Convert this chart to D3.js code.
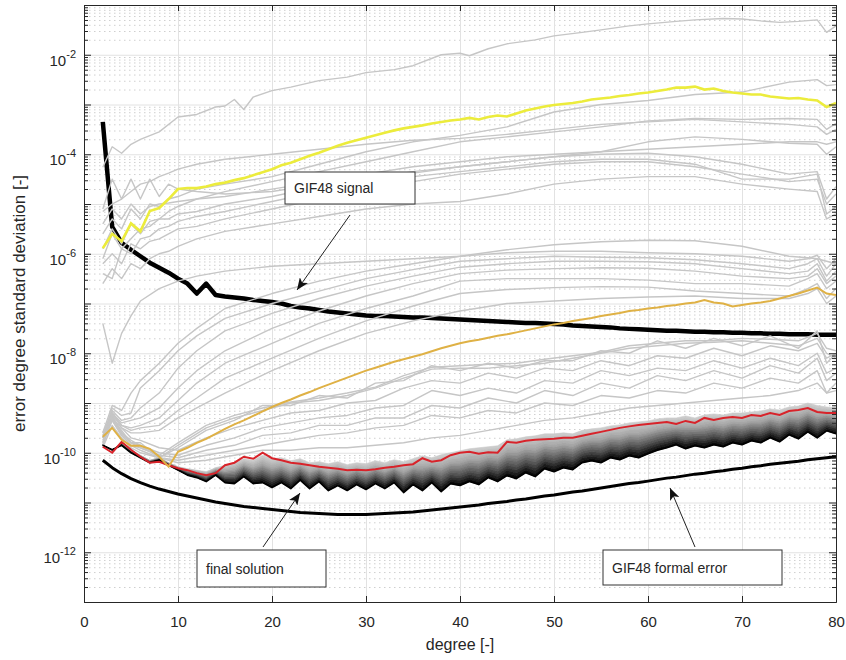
<!DOCTYPE html>
<html><head><meta charset="utf-8">
<script src="https://cdn.jsdelivr.net/npm/d3@7"></script>
<style>
body{margin:0;background:#fff}
svg{display:block}
text{font-family:"Liberation Sans",Arial,Helvetica,sans-serif;fill:#262626}
</style>
</head><body>
<svg id="chart" width="846" height="660"></svg>
<script>
// ---------------- DATA (values are log10 of the error degree std. dev.) ----------------
const degrees = d3.range(2, 81); // 2..80
const xTickValues = [0, 10, 20, 30, 40, 50, 60, 70, 80];
const yLabelExponents = [-12, -10, -8, -6, -4, -2];

const signalLog10 = [-3.35,-5.46,-5.78,-5.92,-6.05,-6.18,-6.28,-6.38,-6.5,-6.6,
 -6.8,-6.6,-6.83,-6.86,-6.88,-6.9,-6.93,-6.95,-6.97,-7.0,
 -7.05,-7.08,-7.1,-7.13,-7.16,-7.18,-7.2,-7.22,-7.24,-7.25,
 -7.25,-7.26,-7.27,-7.28,-7.28,-7.29,-7.3,-7.31,-7.32,-7.33,
 -7.34,-7.35,-7.36,-7.37,-7.38,-7.39,-7.39,-7.4,-7.41,-7.42,
 -7.44,-7.45,-7.46,-7.47,-7.48,-7.5,-7.51,-7.52,-7.53,-7.54,
 -7.55,-7.55,-7.56,-7.57,-7.57,-7.58,-7.58,-7.59,-7.59,-7.6,
 -7.6,-7.61,-7.61,-7.62,-7.62,-7.62,-7.63,-7.63,-7.63];

const formalLog10 = [-10.15,-10.3,-10.42,-10.52,-10.6,-10.67,-10.73,-10.78,-10.83,-10.87,
 -10.91,-10.95,-10.99,-11.02,-11.05,-11.08,-11.1,-11.12,-11.14,-11.16,
 -11.18,-11.2,-11.21,-11.22,-11.23,-11.24,-11.24,-11.24,-11.24,-11.23,
 -11.22,-11.21,-11.2,-11.19,-11.17,-11.15,-11.13,-11.11,-11.09,-11.07,
 -11.05,-11.02,-11.0,-10.98,-10.95,-10.93,-10.9,-10.87,-10.85,-10.82,
 -10.79,-10.77,-10.74,-10.71,-10.68,-10.65,-10.62,-10.6,-10.57,-10.54,
 -10.51,-10.49,-10.46,-10.43,-10.41,-10.38,-10.36,-10.33,-10.31,-10.28,
 -10.26,-10.23,-10.21,-10.19,-10.17,-10.14,-10.12,-10.1,-10.08];

const yellowLog10 = [-5.89,-5.6,-5.75,-5.39,-5.55,-5.14,-5.08,-4.9,-4.7,-4.68,
 -4.68,-4.65,-4.6,-4.57,-4.52,-4.48,-4.42,-4.36,-4.3,-4.22,
 -4.17,-4.1,-4.03,-3.97,-3.9,-3.83,-3.77,-3.72,-3.67,-3.62,
 -3.57,-3.52,-3.48,-3.45,-3.42,-3.38,-3.35,-3.32,-3.3,-3.27,
 -3.3,-3.25,-3.22,-3.24,-3.18,-3.12,-3.08,-3.04,-3.01,-2.99,
 -2.97,-2.94,-2.9,-2.88,-2.86,-2.83,-2.81,-2.78,-2.76,-2.73,
 -2.7,-2.66,-2.66,-2.64,-2.7,-2.68,-2.73,-2.76,-2.78,-2.8,
 -2.8,-2.84,-2.86,-2.88,-2.87,-2.9,-2.92,-3.05,-2.97];

const orangeLog10 = [-9.68,-9.5,-9.74,-9.86,-9.86,-9.92,-10.08,-10.28,-9.98,-9.9,
 -9.8,-9.72,-9.62,-9.52,-9.43,-9.35,-9.26,-9.17,-9.08,-9.0,
 -8.93,-8.85,-8.78,-8.7,-8.63,-8.56,-8.49,-8.42,-8.35,-8.29,
 -8.23,-8.17,-8.12,-8.07,-8.02,-7.96,-7.9,-7.85,-7.8,-7.76,
 -7.73,-7.69,-7.65,-7.62,-7.58,-7.54,-7.5,-7.46,-7.42,-7.39,
 -7.35,-7.32,-7.29,-7.25,-7.22,-7.19,-7.15,-7.13,-7.1,-7.08,
 -7.05,-7.03,-7.0,-6.98,-6.93,-6.98,-7.0,-7.06,-7.03,-7.0,
 -6.98,-6.95,-6.9,-6.85,-6.8,-6.74,-6.68,-6.8,-6.83];

const redLog10 = [-9.88,-10.0,-9.78,-9.94,-10.08,-10.2,-10.18,-10.25,-10.31,-10.35,
 -10.41,-10.45,-10.41,-10.25,-10.2,-10.08,-10.12,-10.0,-10.11,-10.15,
 -10.2,-10.22,-10.25,-10.28,-10.3,-10.32,-10.35,-10.34,-10.35,-10.33,
 -10.3,-10.28,-10.25,-10.23,-10.11,-10.18,-10.15,-10.05,-10.0,-9.98,
 -10.02,-9.99,-10.0,-9.78,-9.8,-9.76,-9.74,-9.73,-9.72,-9.7,
 -9.7,-9.66,-9.62,-9.58,-9.54,-9.5,-9.47,-9.44,-9.42,-9.4,
 -9.38,-9.42,-9.36,-9.4,-9.3,-9.34,-9.3,-9.28,-9.3,-9.24,
 -9.26,-9.2,-9.24,-9.16,-9.14,-9.1,-9.18,-9.2,-9.2];

// band of intermediate solutions (light upper edge, black lower edge)
const bandUpperLog10 = [-9.85,-9.95,-9.8,-9.95,-10.05,-10.15,-10.1,-10.2,-10.28,-10.32,
 -10.35,-10.38,-10.3,-10.25,-10.2,-10.12,-10.15,-10.05,-10.12,-10.1,
 -10.16,-10.12,-10.2,-10.18,-10.22,-10.18,-10.24,-10.2,-10.22,-10.16,
 -10.2,-10.14,-10.18,-10.12,-10.06,-10.1,-10.04,-10.0,-9.96,-9.92,
 -9.9,-9.88,-9.86,-9.74,-9.72,-9.68,-9.66,-9.62,-9.62,-9.6,
 -9.62,-9.55,-9.52,-9.5,-9.46,-9.44,-9.4,-9.38,-9.36,-9.32,
 -9.3,-9.3,-9.26,-9.3,-9.24,-9.22,-9.24,-9.2,-9.2,-9.18,
 -9.16,-9.12,-9.14,-9.08,-9.06,-9.0,-9.05,-9.08,-9.1];
const bandLowerLog10 = [-9.85,-9.94,-9.85,-10.0,-10.1,-10.2,-10.15,-10.25,-10.35,-10.45,
 -10.5,-10.58,-10.45,-10.6,-10.62,-10.48,-10.62,-10.6,-10.7,-10.6,
 -10.72,-10.55,-10.72,-10.58,-10.76,-10.66,-10.76,-10.64,-10.74,-10.62,
 -10.72,-10.6,-10.8,-10.64,-10.76,-10.6,-10.78,-10.62,-10.66,-10.58,
 -10.64,-10.5,-10.58,-10.46,-10.52,-10.4,-10.48,-10.32,-10.38,-10.3,
 -10.34,-10.2,-10.16,-10.2,-10.1,-10.14,-10.06,-10.1,-10.02,-9.95,
 -9.9,-9.84,-9.92,-9.86,-9.9,-9.84,-9.88,-9.8,-9.84,-9.76,
 -9.8,-9.7,-9.78,-9.64,-9.72,-9.58,-9.7,-9.56,-9.62];

// gray: topmost curve
const grayTopDegrees = [2,3,4,5,6,8,10,12,14,15,16,17,18,20,22,25,28,30,33,35,38,40,41,43,45,48,50,53,55,58,60,63,65,68,70,72,74,76,78,79,80];
const grayTopLog10 = [-4.26,-3.85,-3.98,-3.8,-3.7,-3.55,-3.25,-3.2,-3.05,-3.03,-2.9,-3.1,-2.85,-2.72,-2.65,-2.52,-2.45,-2.36,-2.3,-2.22,-2.0,-1.97,-2.02,-1.88,-1.78,-1.7,-1.62,-1.55,-1.5,-1.42,-1.38,-1.33,-1.3,-1.27,-1.28,-1.32,-1.35,-1.33,-1.3,-1.55,-1.42];

// gray: upper group
const grayUpperDegrees = [2,3,4,5,6,7,8,9,10,12,15,20,25,30,35,40,45,50,55,60,65,70,75,78,79,80];
const grayUpperLog10 = [
 [-5.6,-5.3,-5.5,-5.1,-5.3,-5.0,-5.05,-4.9,-4.85,-4.7,-4.6,-4.45,-4.2,-3.95,-3.75,-3.62,-3.45,-3.15,-3.0,-2.92,-2.8,-2.75,-2.55,-2.5,-2.62,-2.6],
 [-5.9,-5.5,-5.8,-5.4,-5.6,-5.35,-5.3,-5.15,-5.05,-4.9,-4.75,-4.55,-4.35,-4.15,-3.95,-3.75,-3.65,-3.55,-3.45,-3.33,-3.28,-3.3,-3.28,-3.3,-3.5,-3.38],
 [-5.1,-4.5,-4.9,-4.5,-4.9,-4.5,-4.85,-4.6,-4.7,-4.75,-4.8,-4.75,-4.6,-4.5,-4.35,-4.25,-4.15,-4.05,-3.95,-3.75,-3.65,-3.7,-3.78,-3.8,-4.0,-3.85],
 [-6.1,-5.6,-5.9,-5.7,-5.5,-5.45,-5.3,-5.3,-5.2,-5.15,-5.0,-4.85,-4.65,-4.5,-4.38,-4.25,-4.15,-4.05,-4.0,-3.98,-4.05,-4.2,-4.4,-4.35,-4.9,-4.65],
 [-6.4,-6.5,-5.9,-6.0,-5.7,-5.65,-5.5,-5.45,-5.35,-5.25,-5.15,-4.95,-4.75,-4.6,-4.45,-4.35,-4.25,-4.15,-4.1,-4.1,-4.2,-4.5,-4.5,-4.4,-5.2,-5.05],
 [-6.2,-6.0,-6.2,-5.8,-5.9,-5.75,-5.7,-5.6,-5.5,-5.45,-5.3,-5.1,-4.9,-4.7,-4.55,-4.4,-4.3,-4.2,-4.15,-4.15,-4.25,-4.4,-4.55,-4.5,-5.0,-4.8],
 [-5.4,-5.1,-5.3,-5.0,-5.2,-5.05,-5.0,-4.98,-4.95,-4.9,-4.85,-4.7,-4.55,-4.4,-4.25,-4.15,-4.05,-4.0,-3.95,-3.9,-3.85,-3.8,-3.75,-3.75,-3.8,-3.75],
 [-6.6,-6.3,-6.5,-6.2,-6.3,-6.1,-6.0,-5.95,-5.85,-5.7,-5.55,-5.4,-5.25,-5.1,-5.0,-4.95,-4.8,-4.6,-4.5,-4.45,-4.45,-4.6,-4.7,-4.75,-5.3,-5.2],
 [-5.15,-5.0,-4.9,-4.75,-4.6,-4.55,-4.45,-4.38,-4.3,-4.2,-4.1,-4.0,-3.9,-3.8,-3.72,-3.68,-3.6,-3.5,-3.4,-3.35,-3.3,-3.35,-3.4,-3.45,-3.6,-3.5]
];

// gray: middle group
const grayMiddleDegrees = [2,3,4,5,6,8,10,12,15,20,25,30,35,40,45,50,55,60,65,70,75,77,78,79,80];
const grayMiddleLog10 = [
 [-7.4,-8.2,-7.6,-7.25,-6.95,-6.7,-6.55,-6.45,-6.35,-6.25,-6.2,-6.15,-6.1,-6.05,-5.92,-5.82,-5.76,-5.73,-5.74,-5.85,-6.05,-6.08,-6.1,-6.15,-6.2],
 [-9.6,-9.05,-9.15,-8.8,-8.55,-8.2,-7.8,-7.5,-7.1,-6.8,-6.55,-6.35,-6.2,-6.05,-5.98,-5.95,-5.95,-5.98,-6.0,-6.05,-6.15,-6.1,-6.03,-6.3,-6.1],
 [-9.7,-9.1,-9.25,-9.2,-8.7,-8.35,-7.95,-7.65,-7.3,-7.0,-6.75,-6.5,-6.32,-6.15,-6.1,-6.05,-6.07,-6.08,-6.12,-6.2,-6.3,-6.2,-6.1,-6.45,-6.2],
 [-9.7,-9.15,-9.35,-9.3,-9.1,-8.8,-8.3,-7.95,-7.55,-7.2,-6.9,-6.65,-6.45,-6.27,-6.2,-6.15,-6.15,-6.16,-6.2,-6.3,-6.4,-6.35,-6.2,-6.55,-6.35],
 [-9.6,-9.2,-9.4,-9.35,-9.3,-9.1,-8.7,-8.35,-7.95,-7.5,-7.15,-6.85,-6.6,-6.4,-6.33,-6.3,-6.28,-6.29,-6.35,-6.45,-6.5,-6.45,-6.3,-6.6,-6.45],
 [-9.65,-9.2,-9.45,-9.5,-9.45,-9.3,-8.95,-8.6,-8.2,-7.8,-7.4,-7.1,-6.85,-6.55,-6.5,-6.5,-6.5,-6.53,-6.6,-6.6,-6.65,-6.5,-6.4,-6.7,-6.55],
 [-9.7,-9.25,-9.45,-9.55,-9.5,-9.45,-9.15,-8.9,-8.5,-8.1,-7.7,-7.35,-7.05,-6.8,-6.72,-6.68,-6.66,-6.67,-6.75,-6.8,-6.85,-6.7,-6.6,-6.9,-6.7],
 [-9.7,-9.3,-9.5,-9.6,-9.6,-9.55,-9.3,-9.1,-8.8,-8.35,-7.95,-7.6,-7.35,-7.15,-7.0,-6.95,-6.9,-6.87,-6.85,-6.9,-6.9,-6.8,-6.7,-7.0,-6.85]
];

// gray: lower group
const grayLowerDegrees = [2,3,4,5,6,8,10,13,16,19,22,25,28,31,34,37,40,43,46,49,52,55,58,61,64,67,70,73,76,78,79,80];
const grayLowerLog10 = [
 [-9.75,-9.3,-9.6,-9.8,-9.85,-10.1,-9.85,-9.5,-9.3,-9.15,-9.0,-8.95,-8.85,-8.7,-8.5,-8.32,-8.3,-8.3,-8.25,-8.2,-8.1,-8.0,-7.9,-7.85,-7.8,-7.78,-7.75,-7.8,-7.85,-7.7,-8.0,-8.1],
 [-9.7,-9.35,-9.65,-9.85,-9.9,-10.05,-9.8,-9.45,-9.25,-9.1,-8.98,-8.9,-8.8,-8.68,-8.45,-8.28,-8.25,-8.22,-8.2,-8.12,-8.05,-7.98,-7.85,-7.8,-7.75,-7.75,-7.7,-7.72,-7.75,-7.6,-7.9,-7.95],
 [-9.7,-9.3,-9.55,-9.8,-9.8,-10.1,-9.9,-9.55,-9.35,-9.05,-9.05,-8.85,-8.9,-8.6,-8.55,-8.25,-8.35,-8.2,-8.3,-8.15,-8.15,-7.95,-8.0,-7.75,-7.9,-7.7,-7.85,-7.65,-7.9,-7.55,-8.2,-8.0],
 [-9.8,-9.2,-9.5,-9.7,-9.75,-9.9,-9.95,-9.7,-9.5,-9.35,-9.2,-9.15,-9.0,-8.95,-8.7,-8.55,-8.6,-8.4,-8.5,-8.3,-8.35,-8.15,-8.25,-8.05,-8.1,-7.9,-8.05,-7.85,-7.95,-7.8,-8.1,-8.0],
 [-9.8,-9.25,-9.6,-9.75,-9.85,-10.0,-10.05,-9.85,-9.7,-9.5,-9.4,-9.3,-9.25,-9.1,-9.05,-8.75,-8.85,-8.7,-8.8,-8.55,-8.6,-8.35,-8.45,-8.3,-8.35,-8.15,-8.3,-8.1,-8.25,-8.0,-8.4,-8.3],
 [-9.85,-9.3,-9.6,-9.8,-9.9,-10.05,-10.1,-9.95,-9.85,-9.65,-9.6,-9.45,-9.45,-9.3,-9.3,-9.05,-9.1,-8.9,-9.0,-8.75,-8.85,-8.6,-8.7,-8.45,-8.55,-8.35,-8.5,-8.25,-8.4,-8.1,-8.55,-8.4],
 [-9.85,-9.35,-9.65,-9.85,-9.95,-10.1,-10.15,-10.05,-9.95,-9.85,-9.75,-9.65,-9.6,-9.5,-9.45,-9.25,-9.3,-9.15,-9.2,-9.0,-9.05,-8.85,-8.9,-8.75,-8.8,-8.6,-8.7,-8.5,-8.6,-8.35,-8.8,-8.6],
 [-9.9,-9.45,-9.7,-9.9,-10.0,-10.1,-10.2,-10.15,-10.05,-9.95,-9.95,-9.9,-9.9,-9.85,-9.8,-9.7,-9.65,-9.55,-9.45,-9.35,-9.3,-9.2,-9.1,-9.05,-9.0,-8.95,-8.9,-8.85,-8.75,-8.6,-8.8,-8.75]
];

const annotationLabels = ["GIF48 signal", "final solution", "GIF48 formal error"];

// ---------------- DRAWING ----------------
const L = 84, R = 836, T = 5, B = 602;
const svg = d3.select("#chart");
const x = d3.scaleLinear().domain([0, 80]).range([L, R]);
const y = d3.scaleLog().domain([1e-13, 1e-1]).range([B, T]);
const pw = v => Math.pow(10, v);

const decadeVals = d3.range(-13, 0).map(pw);
const minorVals = [];
d3.range(-13, -1).forEach(e => { for (let m = 2; m <= 9; m++) minorVals.push(m * Math.pow(10, e)); });

const defs = svg.append("defs");
defs.append("clipPath").attr("id", "plotclip").append("rect")
  .attr("x", L).attr("y", T).attr("width", R - L).attr("height", B - T);
defs.append("marker").attr("id", "arrowhead")
  .attr("viewBox", "0 0 12 10").attr("refX", 12).attr("refY", 5)
  .attr("markerWidth", 12).attr("markerHeight", 10)
  .attr("markerUnits", "userSpaceOnUse").attr("orient", "auto")
  .append("path").attr("d", "M0,0 L12,5 L0,10 L3,5 Z").attr("fill", "#111");

// grids
const gMinor = svg.append("g").attr("transform", `translate(${L},0)`)
  .call(d3.axisLeft(y).tickValues(minorVals).tickSize(-(R - L)).tickFormat(""));
gMinor.select(".domain").remove();
gMinor.selectAll("line").attr("stroke", "#cfcfcf").attr("stroke-dasharray", "1.5,3.5").attr("stroke-width", 1);

const gMajY = svg.append("g").attr("transform", `translate(${L},0)`)
  .call(d3.axisLeft(y).tickValues(decadeVals).tickSize(-(R - L)).tickFormat(""));
gMajY.select(".domain").remove();
gMajY.selectAll("line").attr("stroke", "#e2e2e2").attr("stroke-width", 1);

const gMajX = svg.append("g").attr("transform", `translate(0,${B})`)
  .call(d3.axisBottom(x).tickValues([10, 20, 30, 40, 50, 60, 70]).tickSize(-(B - T)).tickFormat(""));
gMajX.select(".domain").remove();
gMajX.selectAll("line").attr("stroke", "#e2e2e2").attr("stroke-width", 1);

// data layer
const plot = svg.append("g").attr("clip-path", "url(#plotclip)");
const line = d3.line().x(d => x(d[0])).y(d => y(pw(d[1])));
const pairs = (degs, vals) => degs.map((d, i) => [d, vals[i]]);

// GIF48 signal (drawn first, gray lines pass over it)
plot.append("path").datum(pairs(degrees, signalLog10)).attr("d", line)
  .attr("fill", "none").attr("stroke", "#000").attr("stroke-width", 4.5).attr("stroke-linejoin", "round");

// formal error
plot.append("path").datum(pairs(degrees, formalLog10)).attr("d", line)
  .attr("fill", "none").attr("stroke", "#000").attr("stroke-width", 3).attr("stroke-linejoin", "round");

// gray lines
const grayStyle = sel => sel.attr("fill", "none").attr("stroke", "#c6c6c6").attr("stroke-width", 1.4).attr("stroke-linejoin", "round");
plot.append("path").datum(pairs(grayTopDegrees, grayTopLog10)).attr("d", line).call(grayStyle);
plot.append("g").selectAll("path").data(grayUpperLog10).join("path")
  .attr("d", v => line(pairs(grayUpperDegrees, v))).call(grayStyle);
plot.append("g").selectAll("path").data(grayMiddleLog10).join("path")
  .attr("d", v => line(pairs(grayMiddleDegrees, v))).call(grayStyle);
plot.append("g").selectAll("path").data(grayLowerLog10).join("path")
  .attr("d", v => line(pairs(grayLowerDegrees, v))).call(grayStyle);

// band of iterations between its upper and lower edge, shaded light -> black
const shade = d3.scaleLinear().domain([0, 0.35, 0.72, 1]).range(["#d0d0d0", "#a2a2a2", "#4c4c4c", "#000"]);
const nSlices = 14;
const bandRows = degrees.map((d, i) => ({d, up: bandUpperLog10[i], lo: bandLowerLog10[i]}));
const at = (r, t) => r.up + (r.lo - r.up) * t; // position inside the band (fill shading only)
const gBand = plot.append("g");
d3.range(nSlices).forEach(k => {
  const t0 = k / nSlices, t1 = (k + 1) / nSlices;
  const area = d3.area().x(r => x(r.d)).y0(r => y(pw(at(r, t0)))).y1(r => y(pw(at(r, t1))));
  const c = shade((t0 + t1) / 2);
  gBand.append("path").datum(bandRows).attr("d", area)
    .attr("fill", c).attr("stroke", c).attr("stroke-width", 0.6);
});
plot.append("path").datum(pairs(degrees, bandLowerLog10)).attr("d", line)
  .attr("fill", "none").attr("stroke", "#000").attr("stroke-width", 1.6).attr("stroke-linejoin", "round");

// coloured solutions
plot.append("path").datum(pairs(degrees, redLog10)).attr("d", line)
  .attr("fill", "none").attr("stroke", "#d8232a").attr("stroke-width", 2);
plot.append("path").datum(pairs(degrees, orangeLog10)).attr("d", line)
  .attr("fill", "none").attr("stroke", "#dfb145").attr("stroke-width", 2);
plot.append("path").datum(pairs(degrees, yellowLog10)).attr("d", line)
  .attr("fill", "none").attr("stroke", "#ecec3c").attr("stroke-width", 2.6);

// axes (box with inward ticks)
const axisColor = "#262626";
function styleAxis(g) {
  g.select(".domain").attr("stroke", axisColor);
  g.selectAll(".tick line").attr("stroke", axisColor);
}
const gxB = svg.append("g").attr("transform", `translate(0,${B})`)
  .call(d3.axisBottom(x).tickValues(xTickValues).tickSizeInner(-6).tickSizeOuter(0).tickPadding(14).tickFormat(d3.format("d")));
styleAxis(gxB);
gxB.selectAll("text").attr("font-size", 15).attr("fill", axisColor).style("font-family", '"Liberation Sans",Arial,sans-serif');
const gxT = svg.append("g").attr("transform", `translate(0,${T})`)
  .call(d3.axisTop(x).tickValues(xTickValues).tickSizeInner(-6).tickSizeOuter(0).tickFormat(""));
styleAxis(gxT);

const gyL = svg.append("g").attr("transform", `translate(${L},0)`)
  .call(d3.axisLeft(y).tickValues(decadeVals).tickSizeInner(-7).tickSizeOuter(0).tickFormat(""));
styleAxis(gyL);
const gyLm = svg.append("g").attr("transform", `translate(${L},0)`)
  .call(d3.axisLeft(y).tickValues(minorVals).tickSizeInner(-4).tickSizeOuter(0).tickFormat(""));
styleAxis(gyLm);
const gyR = svg.append("g").attr("transform", `translate(${R},0)`)
  .call(d3.axisRight(y).tickValues(decadeVals).tickSizeInner(-7).tickSizeOuter(0).tickFormat(""));
styleAxis(gyR);
const gyRm = svg.append("g").attr("transform", `translate(${R},0)`)
  .call(d3.axisRight(y).tickValues(minorVals).tickSizeInner(-4).tickSizeOuter(0).tickFormat(""));
styleAxis(gyRm);

// y tick labels 10^k
const yl = svg.append("g").selectAll("text").data(yLabelExponents).join("text")
  .attr("x", 76).attr("y", e => y(pw(e)) + 11).attr("text-anchor", "end");
yl.append("tspan").attr("font-size", 15).text("10");
yl.append("tspan").attr("font-size", 11).attr("dy", -8).text(e => String(e));

// axis titles
svg.append("text").attr("x", (L + R) / 2).attr("y", 650).attr("text-anchor", "middle")
  .attr("font-size", 16).text("degree [-]");
svg.append("text").attr("transform", `translate(25,${(T + B) / 2}) rotate(-90)`)
  .attr("text-anchor", "middle").attr("font-size", 17).text("error degree standard deviation [-]");

// annotations
const boxes = [
  {x0: 285, y0: 172, w: 130, h: 32, ax: [350, 215], at: [297, 290]},
  {x0: 197, y0: 550, w: 129, h: 37, ax: [263, 547], at: [300, 493]},
  {x0: 603, y0: 550, w: 179, h: 35, ax: [695, 547], at: [670, 488]}
];
const ann = svg.append("g");
boxes.forEach((b, i) => {
  ann.append("line").attr("x1", b.ax[0]).attr("y1", b.ax[1]).attr("x2", b.at[0]).attr("y2", b.at[1])
    .attr("stroke", "#222").attr("stroke-width", 1).attr("marker-end", "url(#arrowhead)");
  ann.append("rect").attr("x", b.x0).attr("y", b.y0).attr("width", b.w).attr("height", b.h)
    .attr("fill", "#fff").attr("stroke", "#333").attr("stroke-width", 1);
  ann.append("text").attr("x", b.x0 + 9).attr("y", b.y0 + b.h / 2 + 5)
    .attr("font-size", 14).text(annotationLabels[i]);
});
</script>
</body></html>
